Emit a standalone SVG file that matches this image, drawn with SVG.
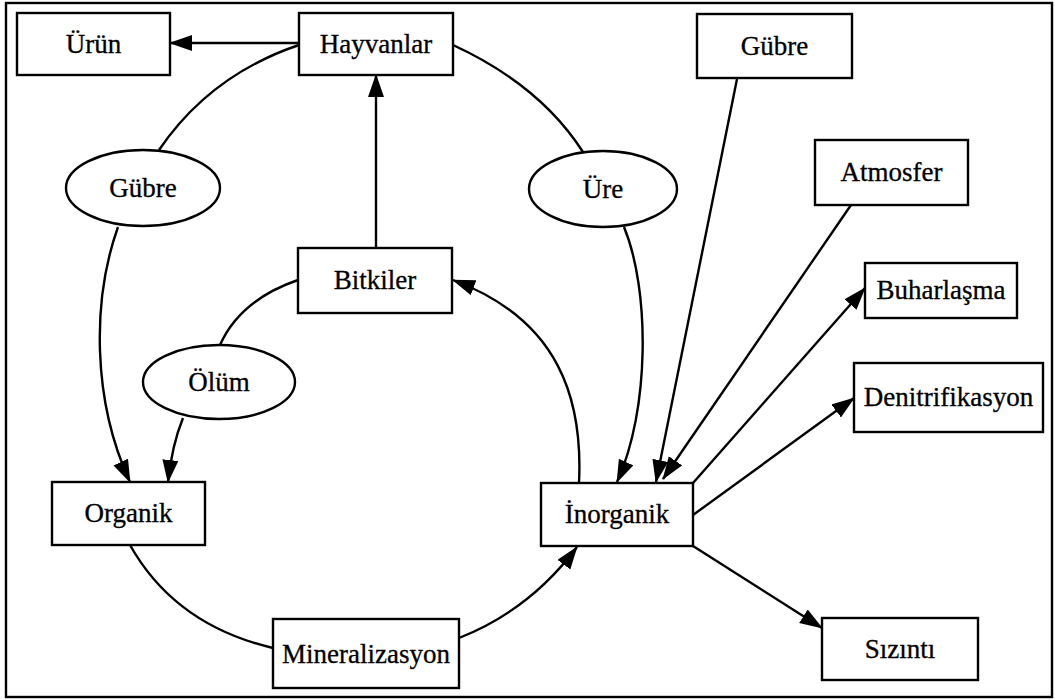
<svg xmlns="http://www.w3.org/2000/svg" width="1055" height="700" viewBox="0 0 1055 700">
<style>
.box{fill:#fff;stroke:#000;stroke-width:2.4}
.ell{fill:#fff;stroke:#000;stroke-width:2.4}
.lbl{font-family:"Liberation Serif","Times New Roman",serif;font-size:27px;fill:#000;stroke:#000;stroke-width:0.3;text-anchor:middle}
.con{fill:none;stroke:#000;stroke-width:2.4}
.arr{marker-end:url(#ah)}
</style>
<defs>
<marker id="ah" markerUnits="userSpaceOnUse" markerWidth="24" markerHeight="18" refX="22" refY="8" orient="auto">
<path d="M0,0 L23,8 L0,16 z" fill="#000"/>
</marker>
</defs>
<rect x="0" y="0" width="1055" height="700" fill="#fff"/>
<rect x="6" y="3" width="1046" height="694" fill="none" stroke="#000" stroke-width="2.4"/>
<g id="connectors">
<path class="con arr" d="M299,43 L170,43"/>
<path class="con arr" d="M376,248 L376,75"/>
<path class="con" d="M299,45 Q210,75 159,150"/>
<path class="con arr" d="M118,227 C92,300 92,400 130,482"/>
<path class="con" d="M298,280 Q240,300 220,345"/>
<path class="con arr" d="M183,418 Q172,445 168,482"/>
<path class="con" d="M130,545 Q175,625 273,648"/>
<path class="con arr" d="M459,638 Q530,610 577,547"/>
<path class="con arr" d="M579,483 C583,400 560,320 453,280"/>
<path class="con" d="M453,45 Q540,85 583,152"/>
<path class="con arr" d="M624,227 C650,290 650,410 617,482"/>
<path class="con arr" d="M737,79 L656,482"/>
<path class="con arr" d="M851,205 L663,479"/>
<path class="con arr" d="M693,483 L865,288"/>
<path class="con arr" d="M693,515 L854,398"/>
<path class="con arr" d="M693,546 L822,628"/>
</g>
<g id="urun"><rect class="box" x="17" y="13" width="153" height="62"/><text class="lbl" x="93.5" y="53">Ürün</text></g>
<g id="hayvanlar"><rect class="box" x="299" y="13" width="154" height="62"/><text class="lbl" x="376" y="53">Hayvanlar</text></g>
<g id="gubre-kutu"><rect class="box" x="697" y="14" width="155" height="64"/><text class="lbl" x="774.5" y="55">Gübre</text></g>
<g id="atmosfer"><rect class="box" x="815" y="140" width="153" height="65"/><text class="lbl" x="891.5" y="181">Atmosfer</text></g>
<g id="buharlasma"><rect class="box" x="865" y="263" width="152" height="55"/><text class="lbl" x="941" y="299">Buharlaşma</text></g>
<g id="denitrifikasyon"><rect class="box" x="854" y="363" width="189" height="69"/><text class="lbl" x="948.5" y="406">Denitrifikasyon</text></g>
<g id="sizinti"><rect class="box" x="822" y="618" width="156" height="62"/><text class="lbl" x="900" y="658">Sızıntı</text></g>
<g id="bitkiler"><rect class="box" x="298" y="248" width="154" height="65"/><text class="lbl" x="375" y="289">Bitkiler</text></g>
<g id="organik"><rect class="box" x="52" y="482" width="153" height="63"/><text class="lbl" x="128.5" y="522">Organik</text></g>
<g id="inorganik"><rect class="box" x="541" y="483" width="152" height="63"/><text class="lbl" x="617" y="523">İnorganik</text></g>
<g id="mineralizasyon"><rect class="box" x="273" y="619" width="186" height="69"/><text class="lbl" x="366" y="663">Mineralizasyon</text></g>
<g id="gubre-elips"><ellipse class="ell" cx="143" cy="188" rx="77" ry="38"/><text class="lbl" x="143" y="197">Gübre</text></g>
<g id="ure"><ellipse class="ell" cx="603" cy="189" rx="74" ry="38"/><text class="lbl" x="603" y="198">Üre</text></g>
<g id="olum"><ellipse class="ell" cx="219" cy="382" rx="76" ry="37"/><text class="lbl" x="219" y="391">Ölüm</text></g>
</svg>
